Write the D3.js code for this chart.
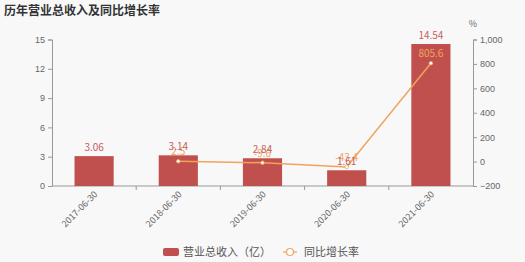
<!DOCTYPE html>
<style>
body { margin: 0; background: #f8f8f9; }
svg { display: block; font-family: "Noto Sans CJK SC", "DejaVu Sans", sans-serif; }
</style>
<body></body>
<script src="https://d3js.org/d3.v7.min.js"></script>
<script>
const dates = ['2017-06-30', '2018-06-30', '2019-06-30', '2020-06-30', '2021-06-30']
const revenue = [3.06, 3.14, 2.84, 1.61, 14.54]
const growth = [null, 2.5, -9.6, -43.4, 805.6]
const leftTicks = [0, 3, 6, 9, 12, 15]
const rightTicks = [-200, 0, 200, 400, 600, 800, 1000]

const width = 525
const height = 262
const margins = { top: 39.5, right: 52, bottom: 76, left: 52 }
const barColor = '#c0504d'
const lineColor = '#f0a35c'
const axisColor = '#999'
const textColor = '#666'

const svg = d3.select('body').append('svg')
    .attr('width', width)
    .attr('height', height)

const x = d3.scaleBand()
    .domain(dates)
    .range([margins.left, width - margins.right])
    .paddingInner(0)

const yLeft = d3.scaleLinear()
    .domain([0, 15])
    .range([height - margins.bottom, margins.top])

const yRight = d3.scaleLinear()
    .domain([-200, 1000])
    .range([height - margins.bottom, margins.top])

// title
svg.append('text')
    .attr('x', 4).attr('y', 15)
    .attr('font-size', 12).attr('font-weight', 'bold')
    .attr('fill', '#333')
    .text('历年营业总收入及同比增长率')

svg.append('text')
    .attr('x', width - margins.right).attr('y', 27)
    .attr('font-size', 9).attr('fill', textColor)
    .attr('text-anchor', 'middle')
    .text('%')

function styleAxis (g) {
    g.select('.domain').attr('stroke', axisColor)
    g.selectAll('.tick line').attr('stroke', axisColor)
    g.selectAll('.tick text').attr('fill', textColor).attr('font-size', 9)
}

svg.append('g')
    .attr('transform', `translate(${margins.left},0)`)
    .call(d3.axisLeft(yLeft).tickValues(leftTicks).tickSizeOuter(0).tickSize(4))
    .call(styleAxis)

svg.append('g')
    .attr('transform', `translate(${width - margins.right},0)`)
    .call(d3.axisRight(yRight).tickValues(rightTicks).tickSize(4).tickFormat(d3.format(',')))
    .call(styleAxis)

// x axis with ticks at band boundaries
const xAxis = svg.append('g')
    .attr('transform', `translate(0,${height - margins.bottom})`)
xAxis.append('line')
    .attr('x1', margins.left).attr('x2', width - margins.right)
    .attr('stroke', axisColor)
xAxis.selectAll('.bound')
    .data(dates.slice(1))
    .enter().append('line')
        .attr('x1', d => x(d)).attr('x2', d => x(d))
        .attr('y1', 0).attr('y2', 4)
        .attr('stroke', axisColor)
xAxis.selectAll('.lbl')
    .data(dates)
    .enter().append('text')
        .attr('transform', d => `translate(${x(d) + x.bandwidth() / 2 + 4},${9}) rotate(-45)`)
        .attr('text-anchor', 'end')
        .attr('font-size', 9)
        .attr('fill', textColor)
        .text(d => d)

// bars
const barW = x.bandwidth() * 0.465
svg.selectAll('.bar')
    .data(revenue)
    .enter().append('rect')
        .attr('x', (d, i) => x(dates[i]) + (x.bandwidth() - barW) / 2)
        .attr('y', d => yLeft(d))
        .attr('width', barW)
        .attr('height', d => yLeft(0) - yLeft(d))
        .attr('fill', barColor)

// line
const pts = growth.map((v, i) => ({ date: dates[i], v })).filter(d => d.v !== null)
const line = d3.line()
    .x(d => x(d.date) + x.bandwidth() / 2)
    .y(d => yRight(d.v))
svg.append('path')
    .datum(pts)
    .attr('d', line)
    .attr('fill', 'none')
    .attr('stroke', lineColor)
    .attr('stroke-width', 1.5)
svg.selectAll('.pt')
    .data(pts)
    .enter().append('circle')
        .attr('cx', d => x(d.date) + x.bandwidth() / 2)
        .attr('cy', d => yRight(d.v))
        .attr('r', 1.8)
        .attr('fill', '#fff')
        .attr('stroke', lineColor)
        .attr('stroke-width', 0.8)

svg.selectAll('.glbl')
    .data(pts)
    .enter().append('text')
        .attr('x', d => x(d.date) + x.bandwidth() / 2)
        .attr('y', d => yRight(d.v) - 6)
        .attr('text-anchor', 'middle')
        .attr('font-size', 10)
        .attr('fill', lineColor)
        .text(d => d.v)

svg.selectAll('.blbl')
    .data(revenue)
    .enter().append('text')
        .attr('x', (d, i) => x(dates[i]) + x.bandwidth() / 2)
        .attr('y', d => yLeft(d) - 5)
        .attr('text-anchor', 'middle')
        .attr('font-size', 10)
        .attr('fill', '#c4605c')
        .text(d => d.toFixed(2))

// legend
const lg = svg.append('g').attr('transform', 'translate(0,252)')
lg.append('rect')
    .attr('x', 163).attr('y', -4).attr('width', 16).attr('height', 8)
    .attr('rx', 2).attr('fill', barColor)
lg.append('text')
    .attr('x', 183).attr('y', 4)
    .attr('font-size', 11).attr('fill', '#555')
    .text('营业总收入（亿）')
lg.append('line')
    .attr('x1', 283).attr('x2', 297)
    .attr('stroke', lineColor).attr('stroke-width', 1.2)
lg.append('circle')
    .attr('cx', 290).attr('r', 3.5)
    .attr('fill', '#fff').attr('stroke', lineColor).attr('stroke-width', 1.2)
lg.append('text')
    .attr('x', 304).attr('y', 4)
    .attr('font-size', 11).attr('fill', '#555')
    .text('同比增长率')
</script>
